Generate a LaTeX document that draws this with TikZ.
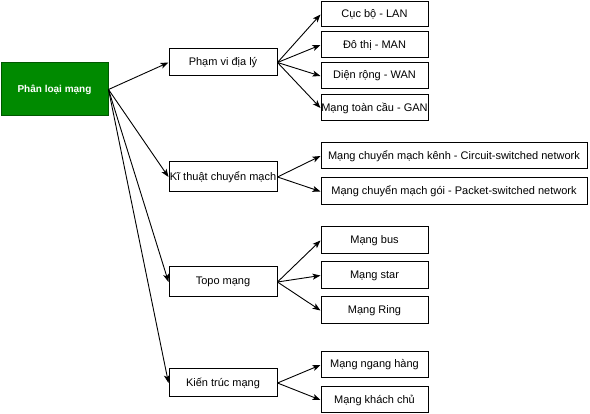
\documentclass[tikz,border=0pt]{standalone}
\usepackage{fontspec}
\setmainfont{Liberation Sans}
\usetikzlibrary{arrows.meta}
\definecolor{rootfill}{HTML}{008A00}
\definecolor{rootline}{HTML}{005700}
\begin{document}
\begin{tikzpicture}[x=1pt,y=-1pt,
  box/.style={draw=black,line width=1pt,fill=white,inner sep=0pt,font=\fontsize{11}{13}\selectfont,minimum width=108pt},
  rootbox/.style={draw=rootline,line width=1pt,fill=rootfill,text=white,inner sep=0pt,font=\bfseries\fontsize{10}{12}\selectfont,minimum width=107pt,minimum height=53pt},
  conn/.style={line width=0.9pt,-{Stealth[length=8pt,width=6pt,inset=2pt]}}]
\useasboundingbox (0,0) rectangle (590,414);
\node[rootbox] (root) at (54.5,89.5) {Phân loại mạng};
% level 2
\node[box,minimum height=27pt] (pv) at (223,62.5) {Phạm vi địa lý};
\node[box,minimum height=30pt] (kt) at (223,177) {Kĩ thuật chuyển mạch};
\node[box,minimum height=30pt] (tp) at (223,282) {Topo mạng};
\node[box,minimum height=28pt] (ktr) at (223,383) {Kiến trúc mạng};
% level 3
\node[box,minimum width=107pt,minimum height=25pt] (lan) at (374.5,14.5) {Cục bộ - LAN};
\node[box,minimum width=107pt,minimum height=26pt] (man) at (374.5,45) {Đô thị - MAN};
\node[box,minimum width=107pt,minimum height=26pt] (wan) at (374.5,76) {Diện rộng - WAN};
\node[box,minimum width=107pt,minimum height=26pt] (gan) at (374.5,108) {Mạng toàn cầu - GAN};
\node[box,minimum width=266pt,minimum height=26pt] (cs) at (454,156) {Mạng chuyển mạch kênh - Circuit-switched network};
\node[box,minimum width=266pt,minimum height=27pt] (ps) at (454,191.5) {Mạng chuyển mạch gói - Packet-switched network};
\node[box,minimum width=107pt,minimum height=27pt] (bus) at (374.5,240.5) {Mạng bus};
\node[box,minimum width=107pt,minimum height=27pt] (star) at (374.5,275.5) {Mạng star};
\node[box,minimum width=107pt,minimum height=27pt] (ring) at (374.5,310.5) {Mạng Ring};
\node[box,minimum width=107pt,minimum height=26pt] (p2p) at (374.5,365) {Mạng ngang hàng};
\node[box,minimum width=107pt,minimum height=26pt] (cl) at (374.5,400) {Mạng khách chủ};
% connectors
\foreach \t in {pv,kt,tp,ktr} \draw[conn] (root.east) -- (\t.west);
\foreach \t in {lan,man,wan,gan} \draw[conn] (pv.east) -- (\t.west);
\foreach \t in {cs,ps} \draw[conn] (kt.east) -- (\t.west);
\foreach \t in {bus,star,ring} \draw[conn] (tp.east) -- (\t.west);
\foreach \t in {p2p,cl} \draw[conn] (ktr.east) -- (\t.west);
\end{tikzpicture}
\end{document}
